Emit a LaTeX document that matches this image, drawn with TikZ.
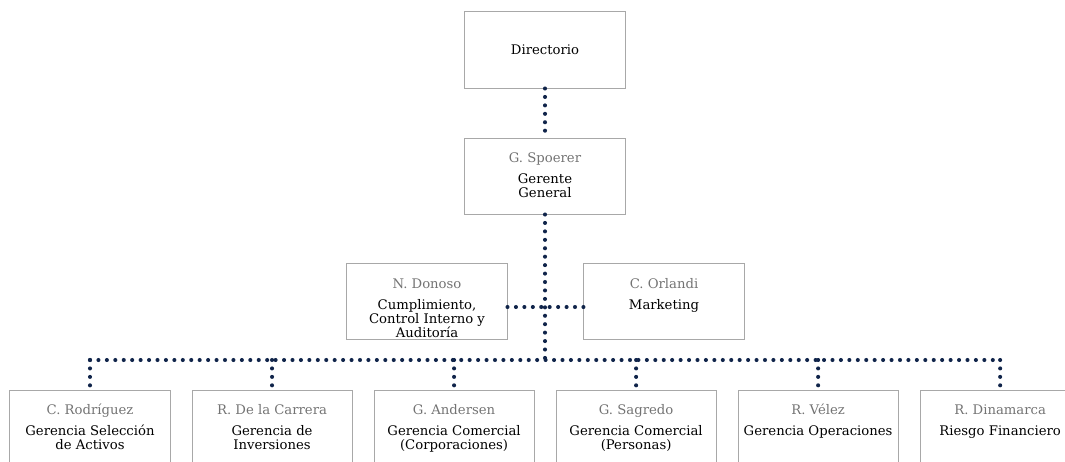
\documentclass[tikz,border=0pt]{standalone}
\usepackage[svgnames]{xcolor}
\usepackage{fontspec}
\usepackage{tikz}
\usetikzlibrary{positioning}
\setmainfont{DejaVu Serif}

\definecolor{puntos}{RGB}{16,36,74}
\definecolor{borde}{RGB}{168,168,168}
\definecolor{nombre}{RGB}{115,115,115}

% caja con nombre arriba (gris) y cargo debajo
\newcommand{\cargo}[2]{\parbox[c][1.9cm][t]{3.95cm}{\centering\lineskiplimit=-20pt
    \rule{0pt}{17.6pt}{\color{nombre}#1}\par\vspace{5pt}#2}}

\begin{document}
\begin{tikzpicture}[x=0.025cm,y=-0.025cm,
        caja/.style={draw=borde,line width=0.7pt,inner sep=0pt,minimum width=4cm,minimum height=1.9cm,
            font=\fontsize{9.4}{10}\selectfont},
        punteado/.style={draw=puntos,line width=2.9pt,line cap=round,dash pattern=on 0pt off 6pt}]
    \useasboundingbox (0,0) rectangle (1065,461);
    \clip (0,0) rectangle (1065,461);

    \node[caja] (directorio) at (545,50) {Directorio};
    \node[caja,below=1.225cm of directorio] (spoerer) {\cargo{G. Spoerer}{Gerente\\General}};

    \node[caja] (donoso) at (427,301.5) {\cargo{N. Donoso}{Cumplimiento,\\Control Interno y\\Auditoría}};
    \node[caja] (orlandi) at (664,301.5) {\cargo{C. Orlandi}{Marketing}};

    \node[caja] (rodriguez) at (90,428) {\cargo{C. Rodríguez}{Gerencia Selección\\de Activos}};
    \node[caja,right=0.525cm of rodriguez] (carrera) {\cargo{R. De la Carrera}{Gerencia de\\Inversiones}};
    \node[caja,right=0.525cm of carrera] (andersen) {\cargo{G. Andersen}{Gerencia Comercial\\(Corporaciones)}};
    \node[caja,right=0.525cm of andersen] (sagredo) {\cargo{G. Sagredo}{Gerencia Comercial\\(Personas)}};
    \node[caja,right=0.525cm of sagredo] (velez) {\cargo{R. Vélez}{Gerencia Operaciones}};
    \node[caja,right=0.525cm of velez] (dinamarca) {\cargo{R. Dinamarca}{Riesgo Financiero}};

    \coordinate (cruce) at (545,307);
    \coordinate (barra) at (545,360);

    \path[punteado]
        (directorio) -- (spoerer)
        (spoerer) -- (barra)
        (donoso.east |- cruce) -- (orlandi.west |- cruce)
        (rodriguez |- barra) -- (dinamarca |- barra);
    \foreach \n in {rodriguez,carrera,andersen,sagredo,velez,dinamarca}
        \path[punteado] (\n |- barra) -- (\n.north);
\end{tikzpicture}
\end{document}
